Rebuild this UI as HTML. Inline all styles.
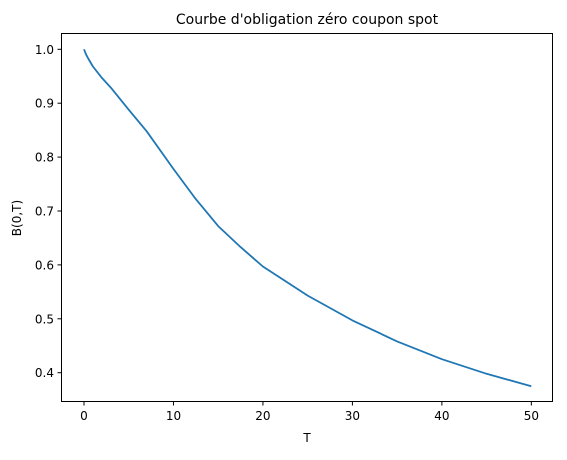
<!DOCTYPE html>
<html><head><meta charset="utf-8"><style>
body{margin:0;background:#fff;}
svg text{font-family:"DejaVu Sans","Liberation Sans",sans-serif;fill:#000;}
</style></head><body>
<svg width="567" height="455">
<text x="307" y="24" font-size="14" text-anchor="middle">Courbe d'obligation zéro coupon spot</text>
<g id="ax"></g>
<path id="line" fill="none" stroke="#1f77b4" stroke-width="1.8" stroke-linejoin="round"/>
<rect x="61.5" y="33.5" width="491" height="368" fill="none" stroke="#000" stroke-width="1"/>
<text x="307" y="442" font-size="12" text-anchor="middle">T</text>
<text transform="translate(21,218) rotate(-90)" font-size="12" text-anchor="middle">B(0,T)</text>
</svg>
<script>
const tVals=[0,0.25,0.5,1,2,3,5,7,10,12.5,15,17.5,20,25,30,35,40,45,50];
const bVals=[1.0,0.99,0.982,0.968,0.947,0.929,0.888,0.848,0.778,0.722,0.672,0.633,0.597,0.543,0.497,0.458,0.425,0.398,0.375];
const xTicks=[0,10,20,30,40,50];
const yTicks=[0.4,0.5,0.6,0.7,0.8,0.9,1.0];
const X=v=>84+v*8.947, Y=v=>49.3+(1-v)*539;
const ns="http://www.w3.org/2000/svg", ax=document.getElementById('ax');
function mk(t,a){const e=document.createElementNS(ns,t);for(const k in a)e.setAttribute(k,a[k]);ax.appendChild(e);return e;}
xTicks.forEach(v=>{
 const l=mk('line',{x1:X(v),x2:X(v),y1:402,y2:405.5,stroke:'#000'});
 
 
 const t=mk('text',{x:X(v),y:420,'font-size':12,'text-anchor':'middle'});t.textContent=v;
 
 
});
yTicks.forEach(v=>{
 const l=mk('line',{x1:57.5,x2:61,y1:Y(v),y2:Y(v),stroke:'#000'});
 
 
 const t=mk('text',{x:54,y:Y(v)+4.5,'font-size':12,'text-anchor':'end'});t.textContent=v.toFixed(1);
 
 
});
document.getElementById('line').setAttribute('d',tVals.map((t,i)=>(i?'L':'M')+X(t).toFixed(1)+','+Y(bVals[i]).toFixed(1)).join(''));
</script>
</body></html>
